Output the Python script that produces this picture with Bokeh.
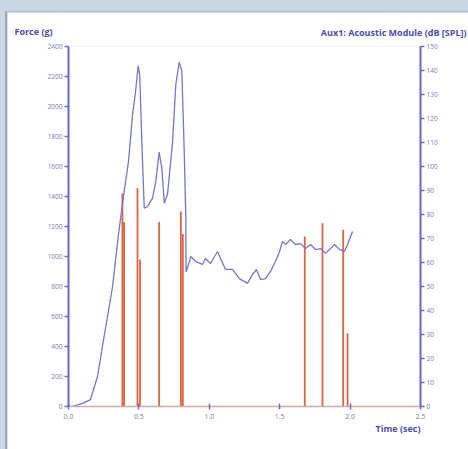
from bokeh.plotting import figure
from bokeh.models import (Range1d, LinearAxis, SingleIntervalTicker, Title,
                          NumeralTickFormatter, ColumnDataSource)
from bokeh.embed import file_html
from bokeh.resources import INLINE

# ---- data ----
# Acoustic level (right axis, dB SPL) vs time (s)
acoustic_t = [0.0, 0.028, 0.099, 0.156, 0.206, 0.241, 0.277, 0.313, 0.355, 0.398,
              0.426, 0.455, 0.476, 0.495, 0.506, 0.521, 0.538, 0.561, 0.597, 0.620,
              0.644, 0.663, 0.680, 0.703, 0.739, 0.762, 0.786, 0.805, 0.822, 0.833,
              0.835, 0.869, 0.904, 0.952, 0.973, 1.009, 1.058, 1.080, 1.115, 1.165,
              1.214, 1.271, 1.307, 1.335, 1.364, 1.399, 1.435, 1.470, 1.499, 1.520,
              1.541, 1.577, 1.612, 1.648, 1.683, 1.719, 1.754, 1.790, 1.825, 1.861,
              1.889, 1.925, 1.960, 1.982, 2.017]
acoustic_db = [0.0, 0.0, 1.3, 2.9, 12.5, 25.0, 37.5, 50.0, 71.7, 90.8,
               102.0, 121.7, 131.0, 142.0, 138.0, 110.0, 82.6, 83.3, 86.8, 93.8,
               106.0, 99.3, 84.7, 88.3, 110.0, 134.0, 143.5, 139.6, 106.0, 78.8,
               56.0, 62.5, 60.4, 59.2, 61.7, 59.6, 64.6, 61.7, 57.1, 57.1,
               53.3, 51.3, 55.0, 57.1, 52.9, 53.3, 56.3, 60.4, 64.6, 68.8,
               67.5, 69.6, 67.5, 67.9, 65.8, 67.5, 65.4, 65.8, 63.8, 65.8,
               67.5, 65.4, 64.6, 67.5, 72.9]

# Force spikes (left axis, g)
force_t = [0.383, 0.395, 0.490, 0.508, 0.644, 0.798, 0.812, 1.678, 1.804, 1.951, 1.982]
force_g = [1420, 1230, 1455, 980, 1230, 1300, 1150, 1133, 1222, 1178, 489]

x_ticks_interval = 0.5
force_title = "Force (g)"
db_title = "Aux1: Acoustic Module (dB [SPL])"
time_title = "Time (sec)"

AXIS = "#6b6bc4"
LBL = "#7b7bb4"
TITLE = "#4c4cae"
FONT = "Open Sans"

p = figure(width=463, height=438, output_backend="svg", toolbar_location=None,
           x_range=Range1d(0, 2.5), y_range=Range1d(0, 2400),
           min_border_left=61, min_border_right=50, min_border_top=34,
           min_border_bottom=44, y_axis_location=None, x_axis_location=None,
           margin=(11, 0, 0, 5))
p.background_fill_color = "white"
p.border_fill_color = "white"
p.outline_line_color = None
p.xgrid.visible = False
p.ygrid.visible = False
p.extra_y_ranges = {"db": Range1d(0, 150)}

def style(ax, size="7px"):
    ax.axis_line_color = AXIS
    ax.axis_line_width = 2
    ax.major_tick_line_color = AXIS
    ax.major_tick_line_width = 1.5
    ax.minor_tick_line_color = None
    ax.major_label_text_color = LBL
    ax.major_label_text_font = FONT
    ax.major_label_text_font_size = size

xa = LinearAxis(ticker=SingleIntervalTicker(interval=x_ticks_interval),
                formatter=NumeralTickFormatter(format="0.0"))
style(xa)
xa.axis_line_color = "#d3a9a9"
xa.axis_line_width = 1.5
xa.major_tick_in = 3
xa.major_tick_out = 3
xa.major_label_standoff = 3
p.add_layout(xa, "below")

ya = LinearAxis(ticker=SingleIntervalTicker(interval=200))
style(ya, "6.5px")
ya.major_tick_in = 0
ya.major_tick_out = 4
ya.major_label_standoff = 2
p.add_layout(ya, "left")

ra = LinearAxis(y_range_name="db", ticker=SingleIntervalTicker(interval=10))
style(ra, "6.5px")
ra.major_tick_in = 0
ra.major_tick_out = 4
ra.major_label_standoff = 2
p.add_layout(ra, "right")

bars = ColumnDataSource(dict(t=force_t, g=force_g, z=[0] * len(force_t)))
p.segment(x0="t", y0="z", x1="t", y1="g", source=bars,
          line_color="#d9532b", line_width=1.8, line_alpha=0.9)

p.line(acoustic_t, acoustic_db, y_range_name="db",
       line_color="#7676cc", line_width=1.3)

tstyle = dict(text_font=FONT, text_font_size="9px", text_font_style="bold",
              text_color=TITLE)
p.add_layout(Title(text=force_title, align="left", offset=-54, standoff=18, **tstyle), "above")
p.add_layout(Title(text=db_title, align="right", offset=-46, standoff=-51, **tstyle), "above")
p.add_layout(Title(text=time_title, align="right", offset=0, standoff=-3, **tstyle), "below")

p.styles = {"border-left": "2px solid #9aa8b6", "border-top": "1px solid #aebbc8"}

html = file_html(p, INLINE)
html = html.replace("</head>",
                    "<style>html,body{margin:0;padding:0;background:#c9d6e3;}</style></head>", 1)
open("out.html", "w").write(html)
